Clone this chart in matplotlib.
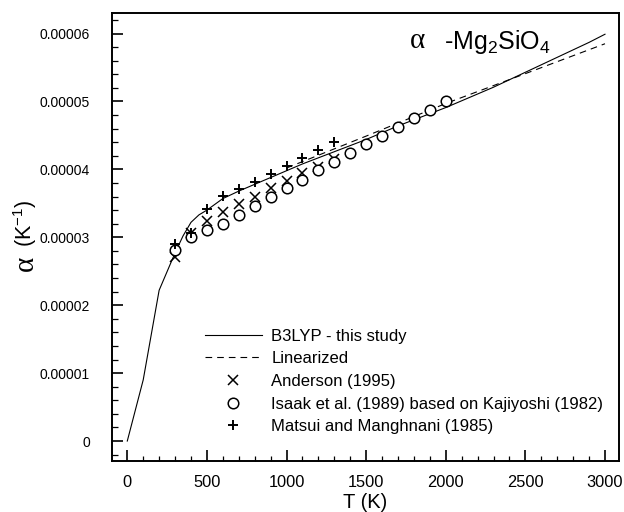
import matplotlib
matplotlib.use("Agg")
import matplotlib.pyplot as plt
from matplotlib.ticker import MultipleLocator, FixedFormatter, FixedLocator

plt.rcParams['font.family'] = ['Liberation Sans', 'DejaVu Sans']
plt.rcParams['mathtext.fontset'] = 'custom'
plt.rcParams['mathtext.rm'] = 'Liberation Serif'
plt.rcParams['mathtext.sf'] = 'Liberation Sans'
plt.rcParams['mathtext.default'] = 'sf'

# ---- data ----
T_b3lyp = [0, 100, 200, 300, 350, 400, 450, 500, 600, 700, 800, 900, 1000, 1100, 1200,
           1300, 1400, 1500, 1600, 1700, 1800, 1900, 2000, 2100, 2200, 2300, 2400,
           2500, 2600, 2700, 2800, 2900, 3000]
a_b3lyp = [0.0, 0.90, 2.22, 2.77, 3.02, 3.22, 3.33, 3.40, 3.57, 3.68, 3.78, 3.88, 3.98,
           4.08, 4.17, 4.26, 4.35, 4.44, 4.54, 4.64, 4.73, 4.82, 4.91, 5.01, 5.11,
           5.21, 5.32, 5.43, 5.54, 5.65, 5.76, 5.87, 5.99]

T_lin = [1000, 1500, 2000, 2500, 3000]
a_lin = [4.02, 4.49, 4.97, 5.41, 5.85]

T_anderson = [300, 400, 500, 600, 700, 800, 900, 1000, 1100, 1200, 1300]
a_anderson = [2.71, 3.06, 3.24, 3.37, 3.49, 3.60, 3.72, 3.83, 3.94, 4.03, 4.15]

T_isaak = [300, 400, 500, 600, 700, 800, 900, 1000, 1100, 1200, 1300, 1400, 1500,
           1600, 1700, 1800, 1900, 2000]
a_isaak = [2.81, 3.00, 3.11, 3.20, 3.33, 3.46, 3.59, 3.73, 3.85, 3.99, 4.11, 4.24,
           4.37, 4.49, 4.62, 4.75, 4.88, 5.01]

T_matsui = [300, 400, 500, 600, 700, 800, 900, 1000, 1100, 1200, 1300]
a_matsui = [2.90, 3.07, 3.41, 3.61, 3.71, 3.81, 3.93, 4.05, 4.17, 4.28, 4.40]

yticks = [0, 1e-5, 2e-5, 3e-5, 4e-5, 5e-5, 6e-5]
ytick_labels = ['0', '0.00001', '0.00002', '0.00003', '0.00004', '0.00005', '0.00006']
xticks = [0, 500, 1000, 1500, 2000, 2500, 3000]

labels = ['B3LYP - this study', 'Linearized', 'Anderson (1995)',
          'Isaak et al. (1989) based on Kajiyoshi (1982)', 'Matsui and Manghnani (1985)']

sc = 1e-5

W, H = 624, 512
fig = plt.figure(figsize=(W / 100, H / 100), dpi=100)
ax = fig.add_axes([112 / W, 1 - 461 / H, (619 - 112) / W, (461 - 12.5) / H])

ax.plot(T_b3lyp, [v * sc for v in a_b3lyp], color='black', lw=0.8, label=labels[0])
ax.plot(T_lin, [v * sc for v in a_lin], color='black', lw=0.8, ls=(0, (6, 4.5)), label=labels[1])
ax.plot(T_anderson, [v * sc for v in a_anderson], ls='none', marker='x', ms=6.5, mew=1.1,
        color='black', label=labels[2])
ax.plot(T_isaak, [v * sc for v in a_isaak], ls='none', marker='o', ms=7.6, mew=1.1,
        mfc='white', mec='black', label=labels[3])
ax.plot(T_matsui, [v * sc for v in a_matsui], ls='none', marker='+', ms=7.5, mew=1.4,
        color='black', label=labels[4])

ax.set_xlim(-96, 3088)
ax.set_ylim(-2.94e-6, 6.31e-5)

ax.yaxis.set_major_locator(FixedLocator(yticks))
ax.yaxis.set_major_formatter(FixedFormatter(ytick_labels))
ax.yaxis.set_minor_locator(MultipleLocator(2e-6))
ax.xaxis.set_major_locator(FixedLocator(xticks))
ax.xaxis.set_minor_locator(MultipleLocator(100))

ax.tick_params(which='both', direction='in', top=False, right=False, colors='black')
ax.tick_params(axis='y', which='major', length=8, width=1.2, pad=16, labelsize=10)
ax.tick_params(axis='y', which='minor', length=4, width=0.9)
ax.tick_params(axis='x', which='major', length=8, width=1.2, pad=10, labelsize=11.8)
ax.tick_params(axis='x', which='minor', length=3.5, width=0.9)
for s in ax.spines.values():
    s.set_linewidth(1.4)

fig.text(365 / W, 1 - 503 / H, 'T (K)', ha='center', va='center', fontsize=14.5)
# y-axis label: large serif alpha followed by (K^-1)
fig.text(26 / W, 1 - 265 / H, r'$\mathrm{\alpha}$', ha='center', va='center',
         rotation=90, fontsize=21)
fig.text(25 / W, 1 - 223.5 / H, r'(K$^{-1}$)', ha='center', va='center',
         rotation=90, fontsize=15.5)

fig.text(417 / W, 1 - 40 / H, r'$\mathrm{\alpha}$', ha='center', va='center', fontsize=21)
fig.text(444 / W, 1 - 42 / H, '-Mg$_2$SiO$_4$', ha='left', va='center', fontsize=18)

leg = ax.legend(loc='upper left', bbox_to_anchor=((205 - 112) / 507, (461 - 328.5) / 448.5),
                frameon=False, fontsize=12, handlelength=3.4, handletextpad=0.58,
                labelspacing=0.46, numpoints=1, borderpad=0, borderaxespad=0)

fig.savefig('out.png', dpi=100)
